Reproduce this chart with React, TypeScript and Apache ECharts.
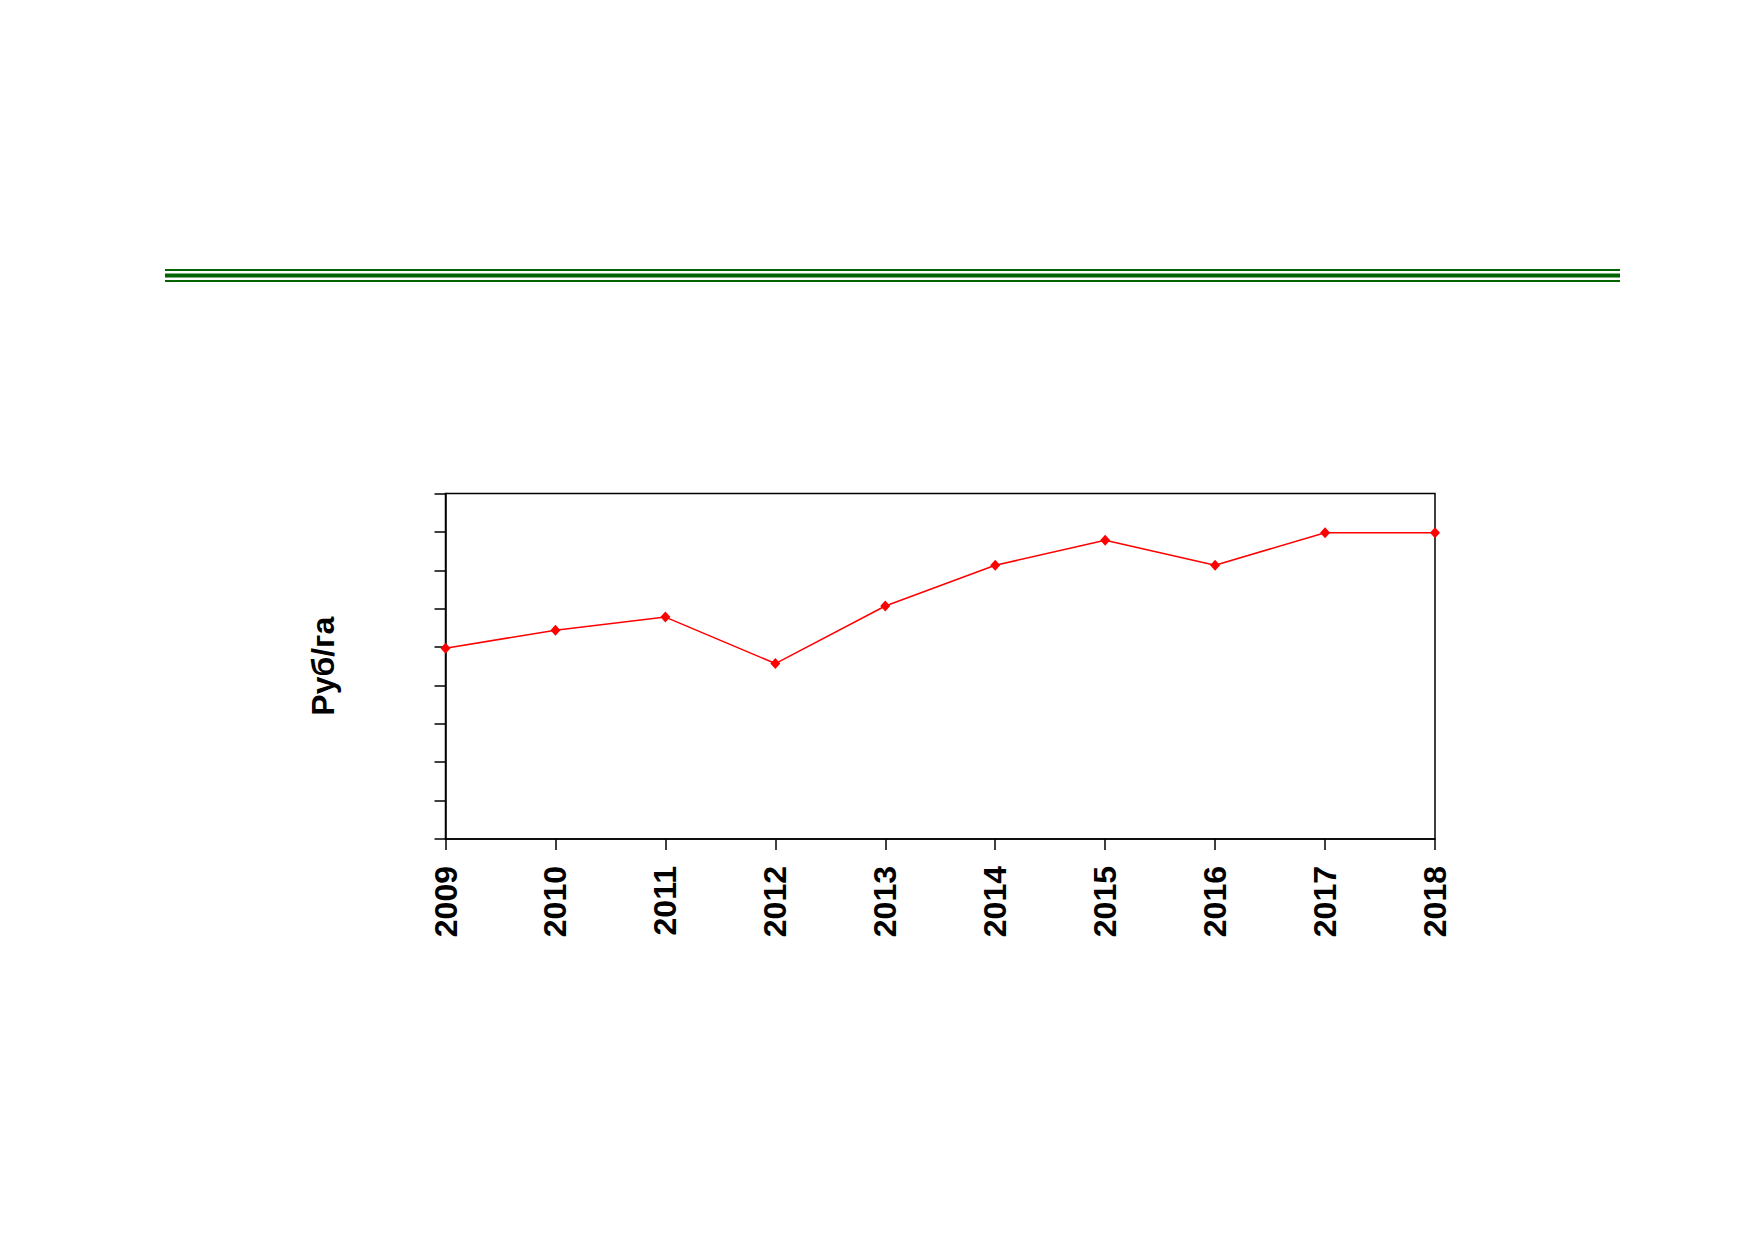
import React, { useEffect, useRef } from "react";
import * as echarts from "echarts";

const years = ["2009", "2010", "2011", "2012", "2013", "2014", "2015", "2016", "2017", "2018"];
const values = [4.97, 5.44, 5.78, 4.57, 6.07, 7.13, 7.78, 7.13, 7.98, 7.98];
const yAxisTitle = "Руб/га";
const yMin = 0;
const yMax = 9;
const yInterval = 1;

const FONT = "'Liberation Sans', Arial, sans-serif";
const GREEN = "#006400";

export default function App() {
  const ref = useRef<HTMLDivElement>(null);

  useEffect(() => {
    if (!ref.current) return;
    const chart = echarts.init(ref.current, undefined, { renderer: "svg" });
    chart.setOption({
      animation: false,
      backgroundColor: "#ffffff",
      grid: {
        left: 445.5,
        right: 317,
        top: 493.5,
        bottom: 400,
        show: true,
        borderColor: "#000000",
        borderWidth: 1.5,
        backgroundColor: "transparent",
      },
      graphic: [
        { type: "line", shape: { x1: 165, y1: 270, x2: 1620, y2: 270 }, style: { stroke: GREEN, lineWidth: 2 } },
        { type: "line", shape: { x1: 165, y1: 275.5, x2: 1620, y2: 275.5 }, style: { stroke: GREEN, lineWidth: 4 } },
        { type: "line", shape: { x1: 165, y1: 281, x2: 1620, y2: 281 }, style: { stroke: GREEN, lineWidth: 2 } },
      ],
      xAxis: {
        type: "category",
        data: years,
        boundaryGap: false,
        axisLine: { show: true, lineStyle: { color: "#000", width: 1.5 } },
        axisTick: { show: true, length: 11, alignWithLabel: true, lineStyle: { color: "#000", width: 1.5 } },
        axisLabel: {
          rotate: 90,
          margin: 27,
          color: "#000",
          fontSize: 32,
          fontWeight: "bold",
          fontFamily: FONT,
        },
        splitLine: { show: false },
      },
      yAxis: {
        type: "value",
        min: yMin,
        max: yMax,
        interval: yInterval,
        name: yAxisTitle,
        nameLocation: "middle",
        nameRotate: 90,
        nameGap: 107,
        nameTextStyle: { color: "#000", fontSize: 32, fontWeight: "bold", fontFamily: FONT },
        axisLine: { show: true, lineStyle: { color: "#000", width: 1.5 } },
        axisTick: { show: true, length: 11, lineStyle: { color: "#000", width: 1.5 } },
        axisLabel: { show: false },
        splitLine: { show: false },
      },
      series: [
        {
          type: "line",
          data: values,
          symbol: "diamond",
          symbolSize: [10, 11],
          showAllSymbol: true,
          lineStyle: { color: "#ff0000", width: 1.5 },
          itemStyle: { color: "#ff0000" },
          clip: false,
        },
      ],
    });
    return () => chart.dispose();
  }, []);

  return (
    <div
      ref={ref}
      style={{ position: "absolute", left: 0, top: 0, width: 1752, height: 1239, background: "#fff" }}
    />
  );
}
